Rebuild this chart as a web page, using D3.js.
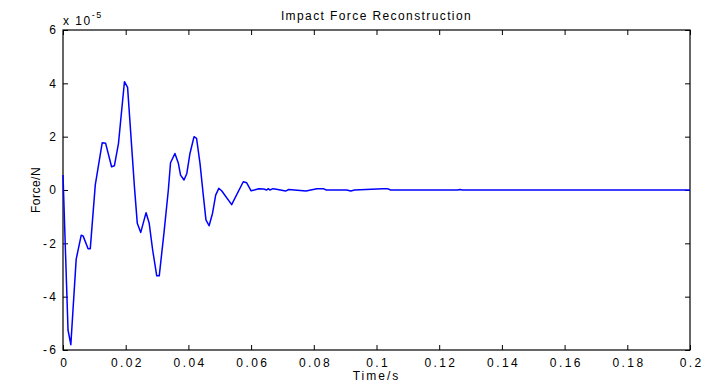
<!DOCTYPE html>
<html>
<head>
<meta charset="utf-8">
<script src="https://cdn.jsdelivr.net/npm/d3@7"></script>
<style>
  body { margin: 0; background: #fff; }
  text { font-family: "Liberation Sans", Arial, sans-serif; fill: #000; }
</style>
</head>
<body>
<svg width="704" height="385"></svg>
<script>
// time samples (s) and reconstructed force (units of 1e-5 N)
var times = [0, 0.0016, 0.0025, 0.0042, 0.0058, 0.0064, 0.008, 0.0087, 0.0103, 0.0125,
  0.0136, 0.0155, 0.0164, 0.0177, 0.0196, 0.0206, 0.0228, 0.0237, 0.0248, 0.0265,
  0.0275, 0.0286, 0.0299, 0.0307, 0.0322, 0.0336, 0.0343, 0.0357, 0.0368, 0.0375,
  0.0386, 0.0395, 0.0405, 0.0418, 0.0426, 0.0437, 0.0448, 0.0456, 0.0466, 0.0477,
  0.0487, 0.0497, 0.0506, 0.0538, 0.0575, 0.0586, 0.06, 0.061, 0.0625, 0.064,
  0.065, 0.0655, 0.066, 0.067, 0.0685, 0.071, 0.072, 0.0775, 0.081, 0.083,
  0.084, 0.0905, 0.0918, 0.093, 0.102, 0.1035, 0.1045, 0.1258, 0.1266, 0.1274, 0.2];
var force = [0.56, -5.25, -5.8, -2.6, -1.7, -1.72, -2.2, -2.2, 0.19, 1.77,
  1.75, 0.87, 0.91, 1.75, 4.06, 3.85, 0.1, -1.25, -1.59, -0.85,
  -1.25, -2.25, -3.22, -3.22, -1.62, 0, 1.02, 1.37, 1.0, 0.56,
  0.375, 0.62, 1.37, 2.0, 1.94, 1.0, -0.25, -1.12, -1.34, -0.87,
  -0.19, 0.06, -0.03, -0.55, 0.31, 0.27, -0.03, 0, 0.05, 0.04,
  0, 0.05, 0, 0.05, 0.02, -0.04, 0.02, -0.04, 0.05, 0.05,
  0, 0, -0.04, 0, 0.05, 0.05, 0, 0, 0.02, 0, 0];

var xTicks = [0, 0.02, 0.04, 0.06, 0.08, 0.1, 0.12, 0.14, 0.16, 0.18, 0.2];
var yTicks = [-6, -4, -2, 0, 2, 4, 6];

var svg = d3.select("svg"),
    margin = {top: 30, right: 14, bottom: 35, left: 63},
    width = +svg.attr("width") - margin.left - margin.right,
    height = +svg.attr("height") - margin.top - margin.bottom;

var x = d3.scaleLinear().domain([0, 0.2]).range([0, width]);
var y = d3.scaleLinear().domain([-6, 6]).range([height, 0]);

var g = svg.append("g").attr("transform", "translate(" + margin.left + "," + margin.top + ")");

var fmt = function(d) { return String(+d.toFixed(2)); };
var tickLen = 5;

// bottom + top axes, inward ticks
var xb = g.append("g").attr("transform", "translate(0," + height + ")")
    .call(d3.axisBottom(x).tickValues(xTicks).tickFormat(fmt).tickSizeInner(-tickLen).tickSizeOuter(0).tickPadding(8));
g.append("g")
    .call(d3.axisTop(x).tickValues(xTicks).tickFormat("").tickSizeInner(-tickLen).tickSizeOuter(0));
var yl = g.append("g")
    .call(d3.axisLeft(y).tickValues(yTicks).tickFormat(fmt).tickSizeInner(-tickLen).tickSizeOuter(0).tickPadding(7));
g.append("g").attr("transform", "translate(" + width + ",0)")
    .call(d3.axisRight(y).tickValues(yTicks).tickFormat("").tickSizeInner(-tickLen).tickSizeOuter(0));

g.selectAll(".domain").remove();
g.selectAll(".tick line").attr("stroke", "#000");
g.selectAll(".tick text").style("font-size", "12px").style("letter-spacing", "2.4px");
xb.selectAll(".tick text").attr("dx", "1.2px");
yl.selectAll(".tick text").attr("dx", "2.4px");

g.append("rect")
    .attr("width", width).attr("height", height)
    .attr("fill", "none").attr("stroke", "#000").attr("stroke-width", 1.2);

var line = d3.line()
    .x(function(d, i) { return x(times[i]); })
    .y(function(d) { return y(d); });

g.append("path")
    .datum(force)
    .attr("fill", "none")
    .attr("stroke", "#0000ff")
    .attr("stroke-width", 1.5)
    .attr("stroke-linejoin", "round")
    .attr("d", line);

// exponent label
var ex = svg.append("text").attr("x", margin.left).attr("y", 25).style("font-size", "12px").style("letter-spacing", "1.5px");
ex.append("tspan").text("x 10");
ex.append("tspan").attr("dy", -7).style("font-size", "9px").text("-5");

svg.append("text")
    .attr("x", margin.left + width / 2).attr("y", 20)
    .attr("text-anchor", "middle")
    .style("font-size", "12px").style("letter-spacing", "1.4px")
    .text("Impact Force Reconstruction");

svg.append("text")
    .attr("x", margin.left + width / 2).attr("y", 380)
    .attr("text-anchor", "middle")
    .style("font-size", "12px").style("letter-spacing", "2px")
    .text("Time/s");

svg.append("text")
    .attr("transform", "translate(40," + (margin.top + height / 2) + ") rotate(-90)")
    .attr("text-anchor", "middle")
    .style("font-size", "12px").style("letter-spacing", "0.5px")
    .text("Force/N");
</script>
</body>
</html>
